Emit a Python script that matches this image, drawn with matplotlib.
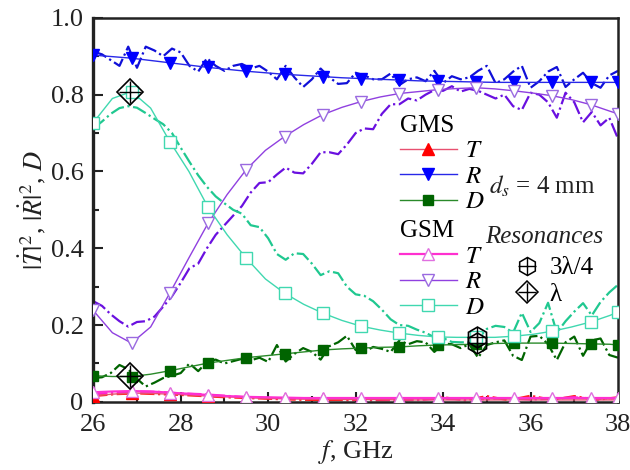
import matplotlib
matplotlib.use("Agg")
import matplotlib.pyplot as plt
from matplotlib.lines import Line2D
from matplotlib.ticker import MultipleLocator, FuncFormatter

plt.rcParams["font.family"] = ["Liberation Serif", "DejaVu Serif"]
plt.rcParams["mathtext.fontset"] = "stix"
plt.rcParams["font.size"] = 16

# Model curves (solid lines), markers every second point
f_mod = [26.0, 26.4375, 26.875, 27.3125, 27.75, 28.1875, 28.625, 29.0625, 29.5,
         29.9375, 30.375, 30.8125, 31.25, 31.6875, 32.125, 32.5625, 33.0, 33.4375,
         33.875, 34.3125, 34.75, 35.1875, 35.625, 36.0625, 36.5, 36.9375, 37.375,
         37.8125, 38.0]
gms_T = [0.016, 0.02, 0.023, 0.022, 0.02, 0.018, 0.015, 0.013, 0.011, 0.009, 0.008,
         0.007, 0.007, 0.006, 0.006, 0.006, 0.005, 0.005, 0.005, 0.005, 0.005, 0.005,
         0.005, 0.005, 0.005, 0.005, 0.005, 0.005, 0.005]
gms_R = [0.903, 0.899, 0.895, 0.889, 0.883, 0.877, 0.871, 0.866, 0.861, 0.857, 0.853,
         0.85, 0.847, 0.844, 0.842, 0.84, 0.838, 0.836, 0.835, 0.834, 0.833, 0.832,
         0.832, 0.832, 0.832, 0.832, 0.832, 0.832, 0.832]
gms_D = [0.068, 0.066, 0.066, 0.072, 0.081, 0.091, 0.101, 0.108, 0.115, 0.12, 0.125,
         0.13, 0.135, 0.138, 0.14, 0.142, 0.143, 0.146, 0.148, 0.149, 0.15, 0.152,
         0.153, 0.153, 0.153, 0.152, 0.151, 0.15, 0.148]
gsm_T = [0.025, 0.027, 0.028, 0.027, 0.024, 0.021, 0.018, 0.015, 0.013, 0.012, 0.011,
         0.01, 0.01, 0.01, 0.01, 0.01, 0.01, 0.01, 0.01, 0.01, 0.01, 0.01, 0.01, 0.01,
         0.01, 0.01, 0.01, 0.01, 0.01]
gsm_R = [0.238, 0.18, 0.153, 0.195, 0.283, 0.375, 0.465, 0.54, 0.605, 0.655, 0.691,
         0.722, 0.748, 0.767, 0.782, 0.794, 0.803, 0.808, 0.813, 0.816, 0.818, 0.815,
         0.81, 0.804, 0.797, 0.787, 0.774, 0.757, 0.75]
gsm_D = [0.727, 0.79, 0.808, 0.765, 0.678, 0.6, 0.507, 0.435, 0.374, 0.32, 0.283,
         0.254, 0.231, 0.212, 0.197, 0.187, 0.179, 0.173, 0.169, 0.168, 0.168, 0.168,
         0.171, 0.176, 0.184, 0.195, 0.208, 0.225, 0.234]
mark_idx = list(range(0, 27, 2)) + [28]

# Measured curves (dash-dot)
f_exp = [26.0, 26.2, 26.4, 26.6, 26.8, 27.0, 27.2, 27.4, 27.6, 27.8, 28.0, 28.2, 28.4,
         28.6, 28.8, 29.0, 29.2, 29.4, 29.6, 29.8, 30.0, 30.2, 30.4, 30.6, 30.8, 31.0,
         31.2, 31.4, 31.6, 31.8, 32.0, 32.2, 32.4, 32.6, 32.8, 33.0, 33.2, 33.4, 33.6,
         33.8, 34.0, 34.2, 34.4, 34.6, 34.8, 35.0, 35.2, 35.4, 35.6, 35.8, 36.0, 36.2,
         36.4, 36.6, 36.8, 37.0, 37.2, 37.4, 37.6, 37.8, 38.0]
exp_gms_R = [0.912, 0.905, 0.89, 0.875, 0.925, 0.87, 0.925, 0.915, 0.9, 0.92, 0.91,
             0.875, 0.86, 0.895, 0.875, 0.862, 0.875, 0.88, 0.868, 0.875, 0.86, 0.84,
             0.875, 0.845, 0.82, 0.84, 0.868, 0.845, 0.828, 0.83, 0.857, 0.85, 0.84,
             0.84, 0.855, 0.825, 0.84, 0.845, 0.835, 0.862, 0.83, 0.848, 0.84, 0.845,
             0.862, 0.875, 0.83, 0.84, 0.86, 0.875, 0.818, 0.835, 0.86, 0.872, 0.82,
             0.84, 0.857, 0.83, 0.818, 0.85, 0.862]
exp_gsm_R = [0.262, 0.25, 0.228, 0.21, 0.196, 0.208, 0.21, 0.222, 0.248, 0.275, 0.31,
             0.348, 0.36, 0.4, 0.435, 0.46, 0.485, 0.51, 0.545, 0.57, 0.572, 0.592,
             0.61, 0.597, 0.595, 0.62, 0.65, 0.65, 0.645, 0.67, 0.7, 0.712, 0.71, 0.75,
             0.775, 0.775, 0.79, 0.785, 0.8, 0.812, 0.81, 0.822, 0.808, 0.815, 0.81,
             0.8, 0.79, 0.8, 0.77, 0.76, 0.805, 0.8, 0.78, 0.74, 0.805, 0.78, 0.728,
             0.755, 0.72, 0.74, 0.685]
exp_gsm_D = [0.712, 0.73, 0.75, 0.765, 0.77, 0.766, 0.752, 0.737, 0.723, 0.7, 0.662,
             0.625, 0.59, 0.56, 0.535, 0.517, 0.5, 0.49, 0.46, 0.455, 0.426, 0.385,
             0.37, 0.387, 0.385, 0.36, 0.33, 0.34, 0.335, 0.3, 0.28, 0.276, 0.262, 0.24,
             0.215, 0.2, 0.198, 0.188, 0.18, 0.168, 0.166, 0.156, 0.155, 0.155, 0.165,
             0.19, 0.198, 0.195, 0.18, 0.232, 0.182, 0.205, 0.258, 0.18, 0.21, 0.235,
             0.257, 0.225, 0.26, 0.285, 0.305]
exp_gms_D = [0.062, 0.064, 0.075, 0.096, 0.085, 0.06, 0.04, 0.05, 0.062, 0.068, 0.075,
             0.1, 0.08, 0.104, 0.11, 0.1, 0.106, 0.112, 0.108, 0.115, 0.104, 0.148,
             0.105, 0.125, 0.14, 0.13, 0.11, 0.145, 0.155, 0.172, 0.135, 0.13, 0.143,
             0.138, 0.13, 0.16, 0.15, 0.158, 0.155, 0.13, 0.152, 0.15, 0.14, 0.15,
             0.115, 0.148, 0.155, 0.16, 0.12, 0.109, 0.17, 0.172, 0.15, 0.109, 0.155,
             0.17, 0.12, 0.16, 0.165, 0.122, 0.115]
f_exp_t = [26.0, 26.5, 27.0, 27.5, 28.0, 28.5, 29.0, 29.5, 30.0, 30.5, 31.0, 31.5,
           32.0, 32.5, 33.0, 33.5, 34.0, 34.5, 35.0, 35.5, 36.0, 36.5, 37.0, 37.5, 38.0]
exp_gsm_T = [0.02, 0.025, 0.027, 0.026, 0.022, 0.02, 0.016, 0.012, 0.01, 0.009, 0.008,
             0.008, 0.007, 0.007, 0.006, 0.006, 0.008, 0.006, 0.007, 0.01, 0.006, 0.008,
             0.012, 0.007, 0.01]
exp_gms_T = [0.015, 0.02, 0.022, 0.02, 0.018, 0.015, 0.012, 0.01, 0.008, 0.006, 0.005,
             0.005, 0.004, 0.004, 0.004, 0.005, 0.012, 0.004, 0.015, 0.004, 0.016, 0.005,
             0.015, 0.005, 0.012]

# Resonance points
res_lam_f = [26.85, 26.85]
res_lam_v = [0.808, 0.068]
res_34_f = [34.78, 34.78]
res_34_v = [0.168, 0.152]

fig = plt.figure(figsize=(6.3, 4.7), dpi=100)
ax = fig.add_axes([0.148, 0.145, 0.833, 0.817])

# dash-dot measured
ax.plot(f_exp_t, exp_gms_T, color="#ff2020", lw=1.6, ls="-.", zorder=2)
ax.plot(f_exp_t, exp_gsm_T, color="#ff20d0", lw=1.6, ls="-.", zorder=2)
ax.plot(f_exp, exp_gms_R, color="#1010d8", lw=1.6, ls="-.", zorder=2)
ax.plot(f_exp, exp_gsm_R, color="#6a10e0", lw=1.6, ls="-.", zorder=2)
ax.plot(f_exp, exp_gsm_D, color="#20c890", lw=1.6, ls="-.", zorder=2)
ax.plot(f_exp, exp_gms_D, color="#006400", lw=1.6, ls="-.", zorder=2)

# model solid lines
l_gms_T, = ax.plot(f_mod, gms_T, color="#e85070", lw=1, marker="^", ms=8,
                   mfc="#ff0000", mec="#ff0000", markevery=mark_idx, zorder=3)
l_gms_R, = ax.plot(f_mod, gms_R, color="#2828e8", lw=1, marker="v", ms=9,
                   mfc="#0000ff", mec="#0000ff", markevery=mark_idx, zorder=3)
l_gms_D, = ax.plot(f_mod, gms_D, color="#2a8a2a", lw=1, marker="s", ms=7,
                   mfc="#006400", mec="#006400", markevery=mark_idx, zorder=3)
l_gsm_T, = ax.plot(f_mod, gsm_T, color="#ff30d0", lw=1.6, marker="^", ms=9,
                   mfc="white", mec="#e070e0", markevery=mark_idx, zorder=4)
l_gsm_R, = ax.plot(f_mod, gsm_R, color="#9040e0", lw=1, marker="v", ms=9,
                   mfc="white", mec="#9a6ae0", markevery=mark_idx, zorder=4)
l_gsm_D, = ax.plot(f_mod, gsm_D, color="#40d8b0", lw=1, marker="s", ms=8,
                   mfc="white", mec="#40d8b0", markevery=mark_idx, zorder=4)

# resonance markers
ax.plot(res_lam_f, res_lam_v, ls="none", marker="D", ms=13, mfc="none", mec="black",
        mew=1.2, zorder=5)
ax.plot(res_lam_f, res_lam_v, ls="none", marker="+", ms=16, mec="black", mew=1,
        zorder=5)
ax.plot(res_34_f, res_34_v, ls="none", marker="h", ms=15, mfc="none", mec="black",
        mew=1.2, zorder=5)
ax.plot(res_34_f, res_34_v, ls="none", marker="+", ms=15, mec="black", mew=1,
        zorder=5)

ax.set_xlim(26, 38)
ax.set_ylim(0, 1.0)
ax.xaxis.set_major_locator(MultipleLocator(2))
ax.xaxis.set_minor_locator(MultipleLocator(1))
ax.yaxis.set_major_locator(MultipleLocator(0.2))
ax.yaxis.set_minor_locator(MultipleLocator(0.1))
ax.yaxis.set_major_formatter(FuncFormatter(lambda v, p: "0" if abs(v) < 1e-9 else f"{v:.1f}"))
ax.tick_params(which="both", direction="in", top=False, right=False, labelsize=19,
               colors="#222222", width=1.5)
ax.tick_params(which="major", length=7)
ax.tick_params(which="minor", length=4)
ax.tick_params(axis="x", which="major", pad=9)
ax.tick_params(axis="y", which="major", pad=7)
for s in ax.spines.values():
    s.set_linewidth(1.8)
    s.set_color("#222222")
ax.spines["left"].set_linewidth(2.4)

ax.set_xlabel(r"$f$, GHz", fontsize=19, color="#222222", labelpad=1)
ax.set_ylabel(r"$|\dot{T}|^2$, $|\dot{R}|^2$, $D$", fontsize=19, color="#222222",
              labelpad=2)

leg1 = ax.legend([l_gms_T, l_gms_R, l_gms_D], [r"$T$", r"$R$", r"$D$"],
                 title="GMS", loc="upper left", bbox_to_anchor=(0.56, 0.78),
                 frameon=False, handlelength=2.3, handletextpad=0.3,
                 labelspacing=0.12, borderpad=0, fontsize=18, title_fontsize=18,
                 alignment="left")
ax.add_artist(leg1)
leg2 = ax.legend([l_gsm_T, l_gsm_R, l_gsm_D], [r"$T$", r"$R$", r"$D$"],
                 title="GSM", loc="upper left", bbox_to_anchor=(0.56, 0.505),
                 frameon=False, handlelength=2.3, handletextpad=0.3,
                 labelspacing=0.12, borderpad=0, fontsize=18, title_fontsize=18,
                 alignment="left")
ax.add_artist(leg2)

ax.text(0.755, 0.56, r"$d_s$ = 4 mm", transform=ax.transAxes, fontsize=18,
        color="#222222", ha="left", va="center")
ax.text(0.86, 0.43, "Resonances", transform=ax.transAxes, fontsize=18,
        style="italic", color="#222222", ha="center", va="center")

h34 = (Line2D([], [], ls="none", marker="h", ms=13, mfc="none", mec="black", mew=1.1),
       Line2D([], [], ls="none", marker="+", ms=13, mec="black", mew=1))
hlam = (Line2D([], [], ls="none", marker="D", ms=11, mfc="none", mec="black", mew=1.1),
        Line2D([], [], ls="none", marker="+", ms=13, mec="black", mew=1))
ax.legend([h34, hlam], ["3λ/4", "λ"], loc="upper left", bbox_to_anchor=(0.779, 0.41),
          frameon=False, handlelength=1.0, handletextpad=0.4, labelspacing=0.15,
          borderpad=0, fontsize=18)

fig.savefig("out.png", dpi=100)
